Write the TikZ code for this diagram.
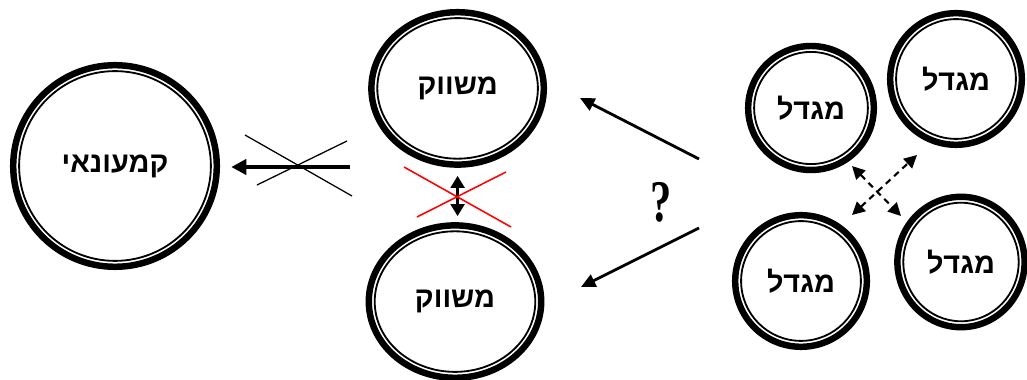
\documentclass[tikz,border=0pt]{standalone}
\usepackage{fontspec}
\newfontfamily\hebfont[Script=Hebrew]{Liberation Sans}
\newfontfamily\qfont{Liberation Serif}
\TeXXeTstate=1
\usetikzlibrary{arrows.meta,shapes.geometric}
\definecolor{xred}{RGB}{255,0,0}
\tikzset{
  ring/.style 2 args={ellipse, draw, line width=4.6pt, inner sep=0pt,
                 minimum width=#1, minimum height=#2,
                 font=\hebfont\bfseries\fontsize{20.5}{24}\selectfont,
                 path picture={\draw[line width=1.3pt] (path picture bounding box.center)
                   ellipse [x radius=#1/2-4.2pt, y radius=#2/2-4.2pt];}},
  bigar/.style ={-{Triangle[length=3.8mm,width=3.8mm]}, line width=2.9pt},
  ar/.style    ={-{Triangle[length=3.6mm,width=3.3mm]}, line width=2pt},
  dbl/.style   ={{Triangle[length=3mm,width=3.4mm]}-{Triangle[length=3mm,width=3.4mm]},
                 line width=2.2pt},
  dsh/.style   ={{Triangle[length=3.2mm,width=3.2mm]}-{Triangle[length=3.2mm,width=3.2mm]},
                 line width=1.5pt, dash pattern=on 4.5pt off 3.5pt},
  xline/.style ={line width=0.9pt},
  rline/.style ={draw=xred, line width=1.1pt},
  qmark/.style ={font=\qfont\bfseries\fontsize{42}{44}\selectfont, inner sep=0pt}
}
\begin{document}
\begin{tikzpicture}
\useasboundingbox (0,0) rectangle (25.675,9.5);
\node[ring={5.09cm}{5.04cm}] (ret) at (2.875,5.35) {\beginR קמעונאי\endR};
\node[ring={4.31cm}{3.81cm}] (mk1) at (11.44,7.29) {\beginR משווק\endR};
\node[ring={4.31cm}{3.81cm}] (mk2) at (11.375,1.96) {\beginR משווק\endR};
\node[ring={3.14cm}{3.1cm}] (tw1) at (20.275,6.8) {\beginR מגדל\endR};
\node[ring={3.29cm}{3.29cm}] (tw2) at (23.9,7.525) {\beginR מגדל\endR};
\node[ring={3.29cm}{3.29cm}] (tw3) at (20.025,2.475) {\beginR מגדל\endR};
\node[ring={3.18cm}{3.26cm}] (tw4) at (24.025,2.95) {\beginR מגדל\endR};
\node[qmark] (q) at (16.525,4.45) {\scalebox{0.72}[1]{?}};

\coordinate (cutw) at (8.75,5.325);
\draw[bigar, shorten >=0.28cm] (cutw) -- (cutw -| ret.east);
\draw[xline] (6.125,6.125) -- (8.8,4.6);
\draw[xline] (6.425,4.875) -- (8.675,5.975);

\draw[dbl, shorten <=0.2cm, shorten >=0.15cm] (mk1.south) -- (mk1.south |- mk2.north);
\draw[rline] (10.1,5.325) -- (12.775,3.825);
\draw[rline] (10.425,4.075) -- (12.65,5.2);

\coordinate (up0) at (17.475,5.525);
\coordinate (up1) at (14.5,7.05);
\coordinate (dn0) at (17.475,3.8);
\coordinate (dn1) at (14.525,2.325);
\draw[ar] (up0) -- (up1);
\draw[ar] (dn0) -- (dn1);

\coordinate (da0) at (21.3,5.35);
\coordinate (da1) at (22.525,4.1);
\coordinate (db0) at (21.3,4.125);
\coordinate (db1) at (22.925,5.625);
\draw[dsh] (da0) -- (da1);
\draw[dsh] (db0) -- (db1);
\end{tikzpicture}
\end{document}
